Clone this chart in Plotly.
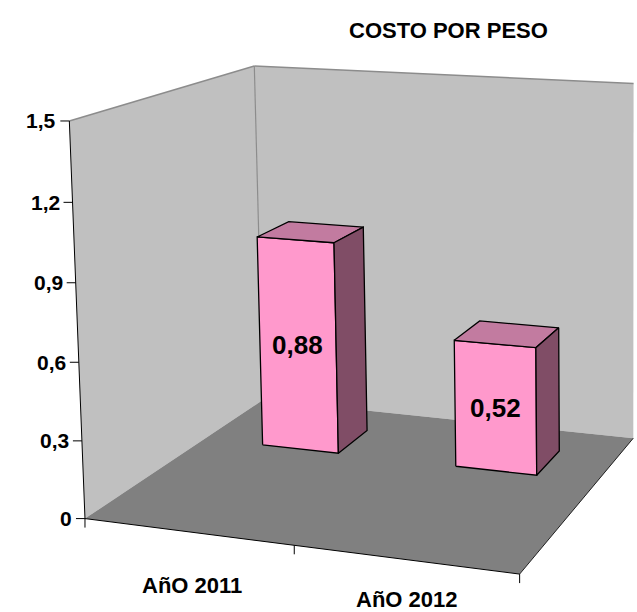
import numpy as np
import plotly.graph_objects as go

categories = ["AñO 2011", "AñO 2012"]
values = [0.88, 0.52]
value_labels = ["0,88", "0,52"]
y_ticks = [0, 0.3, 0.6, 0.9, 1.2, 1.5]
y_tick_labels = ["0", "0,3", "0,6", "0,9", "1,2", "1,5"]
title = "COSTO POR PESO"

Y_MAX = 1.5
N_CAT = len(categories)
FONT = "Liberation Sans, Arial"

# ---- 3D camera fitted to the chart frame corners (world -> pixel) ----
anchors_world = [(0, 0, 0), (0, 0, Y_MAX), (0, 1, Y_MAX), (0, 1, 0),
                 (N_CAT, 0, 0), (N_CAT, 1, 0), (N_CAT, 1, Y_MAX)]
anchors_px = [(85, 518.3), (68.3, 122), (255.7, 65.7), (262.5, 399.6),
              (520.7, 573.3), (633, 439.3), (633, 83)]

A = []
for (X, Y, Z), (u, v) in zip(anchors_world, anchors_px):
    u /= 100
    v /= 100
    A.append([X, Y, Z, 1, 0, 0, 0, 0, -u * X, -u * Y, -u * Z, -u])
    A.append([0, 0, 0, 0, X, Y, Z, 1, -v * X, -v * Y, -v * Z, -v])
_, _, Vt = np.linalg.svd(np.array(A))
P = Vt[-1].reshape(3, 4)


def proj(X, Y, Z):
    p = P @ np.array([X, Y, Z, 1.0])
    return p[0] / p[2] * 100, p[1] / p[2] * 100


fig = go.Figure()


def poly(pts, fill, line="rgba(0,0,0,0)", w=0):
    xs = [proj(*p)[0] for p in pts]
    ys = [proj(*p)[1] for p in pts]
    fig.add_trace(go.Scatter(x=xs + [xs[0]], y=ys + [ys[0]], fill="toself", fillcolor=fill,
                             mode="lines", line=dict(color=line, width=w),
                             hoverinfo="skip", showlegend=False))


def seg(p0, p1, color, w):
    a = proj(*p0)
    b = proj(*p1)
    fig.add_trace(go.Scatter(x=[a[0], b[0]], y=[a[1], b[1]], mode="lines",
                             line=dict(color=color, width=w), hoverinfo="skip", showlegend=False))


def seg_px(a, b, color, w):
    fig.add_trace(go.Scatter(x=[a[0], b[0]], y=[a[1], b[1]], mode="lines",
                             line=dict(color=color, width=w), hoverinfo="skip", showlegend=False))


# walls and floor
poly([(0, 1, 0), (N_CAT, 1, 0), (N_CAT, 1, Y_MAX), (0, 1, Y_MAX)], "#C0C0C0")
poly([(0, 0, 0), (0, 1, 0), (0, 1, Y_MAX), (0, 0, Y_MAX)], "#C0C0C0")
poly([(0, 0, 0), (N_CAT, 0, 0), (N_CAT, 1, 0), (0, 1, 0)], "#808080")

# wall edges
seg((0, 0, Y_MAX), (0, 1, Y_MAX), "#8C8C8C", 1.5)
seg((0, 1, Y_MAX), (N_CAT, 1, Y_MAX), "#8C8C8C", 1.5)
seg((0, 1, 0), (0, 1, Y_MAX), "#8C8C8C", 1.2)
seg((N_CAT, 0, 0), (N_CAT, 1, 0), "#202020", 1)

# bars
BAR_W = 0.4
BAR_OFF = 0.51
D0, D1 = 0.635, 0.835
for i, v in enumerate(values):
    x0 = i + BAR_OFF - BAR_W / 2
    x1 = i + BAR_OFF + BAR_W / 2
    poly([(x0, D0, 0), (x1, D0, 0), (x1, D0, v), (x0, D0, v)], "#FF99CC", "black", 1.3)
    poly([(x0, D0, v), (x1, D0, v), (x1, D1, v), (x0, D1, v)], "#C27BA0", "black", 1.3)
    poly([(x1, D0, 0), (x1, D1, 0), (x1, D1, v), (x1, D0, v)], "#804D66", "black", 1.3)
    cx, cy = proj((x0 + x1) / 2, D0, v / 2)
    fig.add_annotation(x=cx, y=cy, text=f"<b>{value_labels[i]}</b>", showarrow=False,
                       xanchor="center", yanchor="middle",
                       font=dict(family=FONT, size=26, color="black"))

# value axis
seg((0, 0, 0), (0, 0, Y_MAX), "black", 1)
for t, lab in zip(y_ticks, y_tick_labels):
    px, py = proj(0, 0, t)
    seg_px((px - 9, py), (px, py), "black", 1)
    fig.add_annotation(x=px - 11, y=py, text=f"<b>{lab}</b>", showarrow=False,
                       xanchor="right", yanchor="middle",
                       font=dict(family=FONT, size=21, color="black"))

# category axis
seg((0, 0, 0), (N_CAT, 0, 0), "black", 1)
for k in range(N_CAT + 1):
    px, py = proj(k, 0, 0)
    seg_px((px, py), (px, py + 9), "black", 1)
label_dy = [54, 40]
label_dx = [4, 2]
for i, lab in enumerate(categories):
    px, py = proj(i + 0.5, 0, 0)
    fig.add_annotation(x=px + label_dx[i], y=py + label_dy[i], text=f"<b>{lab}</b>",
                       showarrow=False, xanchor="center", yanchor="middle",
                       font=dict(family=FONT, size=22, color="black"))

fig.add_annotation(x=448, y=30, text=f"<b>{title}</b>", showarrow=False,
                   xanchor="center", yanchor="middle",
                   font=dict(family=FONT, size=22, color="black"))

fig.update_layout(width=637, height=612, margin=dict(l=0, r=0, t=0, b=0),
                  plot_bgcolor="white", paper_bgcolor="white",
                  xaxis=dict(range=[0, 637], visible=False, fixedrange=True),
                  yaxis=dict(range=[612, 0], visible=False, fixedrange=True))
fig.write_html("out.html")
